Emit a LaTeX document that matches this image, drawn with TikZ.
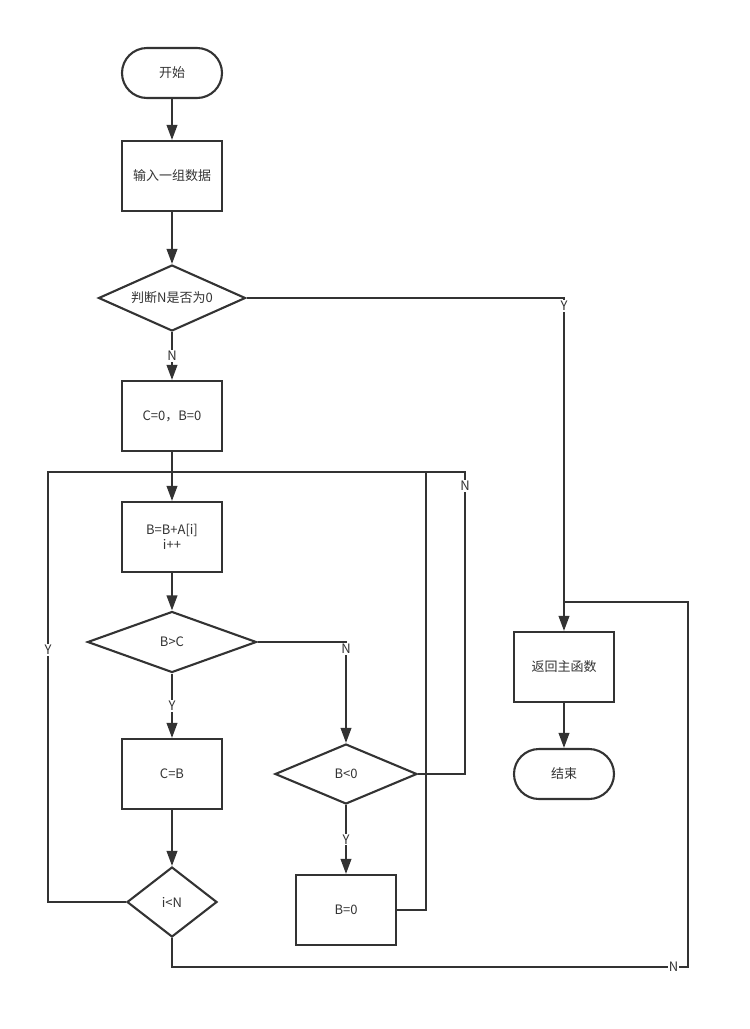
\documentclass[tikz,border=0pt]{standalone}
\usepackage{fontspec}
\setmainfont{Noto Sans CJK SC}
\usetikzlibrary{shapes.geometric,arrows.meta}
\definecolor{ink}{HTML}{333333}
\begin{document}
\begin{tikzpicture}[x=1pt,y=-1pt,
  every node/.style={font=\fontsize{13}{15.5}\selectfont, text=ink},
  base/.style={draw=ink, line width=2.1pt, inner sep=0pt},
  box/.style={base, rectangle, minimum width=100pt, minimum height=70pt},
  term/.style={base, rectangle, rounded corners=25pt, minimum width=100pt, minimum height=50pt},
  dec/.style={base, diamond},
  conn/.style={draw=ink, line width=2.1pt},
  arr/.style={conn, -{Triangle[length=15pt,width=10.5pt]}},
  lab/.style={fill=white, inner sep=1pt, font=\fontsize{13}{14}\selectfont}
]
\useasboundingbox (0,0) rectangle (750,1029);

\node[term] (start) at (172,73) {开始};
\node[box] (input) at (172,176) {输入一组数据};
\node[dec, aspect=2.23, minimum width=147pt, minimum height=66pt] (judge) at (172,298) {判断N是否为0};
\node[box] (init) at (172,416) {C=0，B=0};
\node[box, align=center] (loop) at (172,537) {B=B+A[i]\\[-1pt]i++};
\node[dec, aspect=2.77, minimum width=169pt, minimum height=61pt] (bgc) at (172,642) {B>C};
\node[box] (cb) at (172,774) {C=B};
\node[dec, aspect=1.29, minimum width=90pt, minimum height=70pt] (iln) at (172,902) {i<N};
\node[dec, aspect=2.37, minimum width=142pt, minimum height=60pt] (blz) at (346,774) {B<0};
\node[box] (bz) at (346,910) {B=0};
\node[box] (ret) at (564,667) {返回主函数};
\node[term] (fin) at (564,774) {结束};

\coordinate (j) at (172,472);
\coordinate (k) at (426,472);
\coordinate (m) at (564,602);
\coordinate (r1) at (465,472);
\coordinate (l1) at (48,472);
\coordinate (b2) at (688,967);
\coordinate (b3) at (688,602);

\draw[arr] (start) -- (input);
\draw[arr] (input) -- (judge);
\draw[arr] (judge) -- node[lab]{N} (init);
\draw[arr] (judge.east) -| node[lab, pos=0.512]{Y} (ret.north);
\draw[arr] (init) -- (loop);
\draw[arr] (loop) -- (bgc);
\draw[arr] (bgc) -- node[lab]{Y} (cb);
\draw[arr] (bgc.east) -| node[lab, pos=0.535]{N} (blz.north);
\draw[arr] (cb) -- (iln);
\draw[arr] (blz) -- node[lab]{Y} (bz);
\draw[conn] (blz.east) -| node[lab, pos=0.977]{N} (r1) -- (j);
\draw[conn] (bz.east) -| (k);
\draw[conn] (iln.west) -| node[lab, pos=0.793]{Y} (l1) -- (j);
\draw[conn] (iln.south) |- (b2) node[lab, pos=0.986]{N} -- (b3) -- (m);
\draw[arr] (ret) -- (fin);
\end{tikzpicture}
\end{document}
